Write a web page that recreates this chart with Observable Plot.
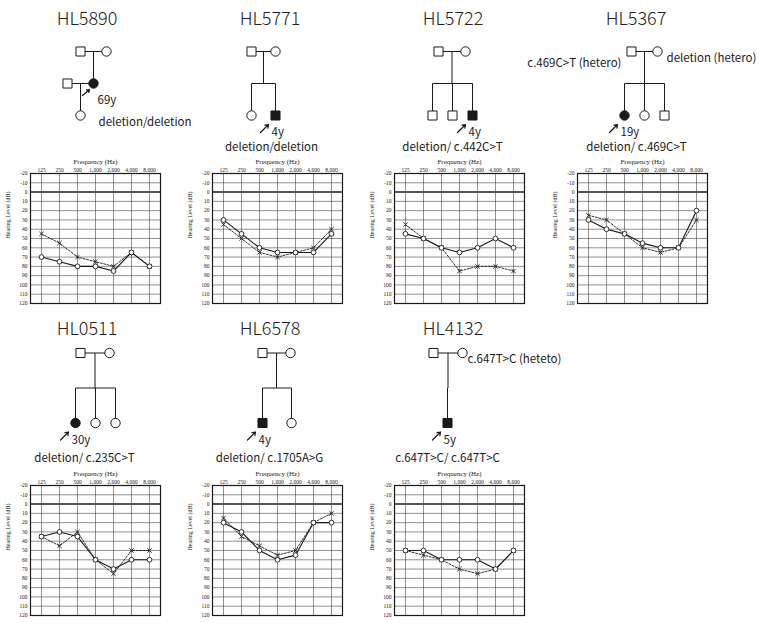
<!DOCTYPE html>
<html>
<head>
<meta charset="utf-8">
<script src="https://cdn.jsdelivr.net/npm/d3@7"></script>
<script src="https://cdn.jsdelivr.net/npm/@observablehq/plot@0.6"></script>
<style>
  body { margin: 0; background: #fff; }
  #root { position: relative; width: 759px; height: 623px; overflow: hidden; background: #fff; }
  .abs { position: absolute; }
  .ttl { position: absolute; font-family: "Noto Sans CJK JP", "Noto Sans", sans-serif; font-size: 18px; font-weight: 300; color: #222; transform: translate(-50%, -50%); white-space: nowrap; }
</style>
</head>
<body>
<div id="root"></div>
<script>
// ---------------- data ----------------
const freqs = ["125", "250", "500", "1,000", "2,000", "4,000", "8,000"];
const dbTicks = [-20, -10, 0, 10, 20, 30, 40, 50, 60, 70, 80, 90, 100, 110, 120];
const families = ["HL5890", "HL5771", "HL5722", "HL5367", "HL0511", "HL6578", "HL4132"];

// right ear (o, solid) and left ear (x, dashed), dB HL at each frequency
const hl5890Right = [70, 75, 80, 80, 85, 65, 80];
const hl5890Left  = [45, 55, 70, 75, 80, 65, 80];
const hl5771Right = [30, 45, 60, 65, 65, 65, 45];
const hl5771Left  = [35, 50, 65, 70, 65, 60, 40];
const hl5722Right = [45, 50, 60, 65, 60, 50, 60];
const hl5722Left  = [35, 50, 60, 85, 80, 80, 85];
const hl5367Right = [30, 40, 45, 55, 60, 60, 20];
const hl5367Left  = [25, 30, 45, 60, 65, 60, 30];
const hl0511Right = [35, 30, 35, 60, 70, 60, 60];
const hl0511Left  = [35, 45, 30, 60, 75, 50, 50];
const hl6578Right = [20, 30, 50, 60, 55, 20, 20];
const hl6578Left  = [15, 35, 45, 55, 50, 20, 10];
const hl4132Right = [50, 50, 60, 60, 60, 70, 50];
const hl4132Left  = [50, 55, 60, 70, 75, 70, 50];

// pedigree members: slot (horizontal, relative to parents), gen (generation row), sex, affected, proband
const hl5890Members = [
  {slot: -0.65, gen: 0, sex: "M", aff: false},
  {slot: 0.65, gen: 0, sex: "F", aff: false},
  {slot: -1.3, gen: 1, sex: "M", aff: false},
  {slot: 0, gen: 1, sex: "F", aff: true, proband: true},
  {slot: -0.65, gen: 2, sex: "F", aff: false}
];
const hl5771Members = [
  {slot: -0.6, gen: 0, sex: "M", aff: false},
  {slot: 0.6, gen: 0, sex: "F", aff: false},
  {slot: -0.6, gen: 2, sex: "F", aff: false},
  {slot: 0.6, gen: 2, sex: "M", aff: true, proband: true}
];
const hl5722Members = [
  {slot: -0.7, gen: 0, sex: "M", aff: false},
  {slot: 0.65, gen: 0, sex: "F", aff: false},
  {slot: -1, gen: 2, sex: "M", aff: false},
  {slot: 0, gen: 2, sex: "M", aff: false},
  {slot: 1, gen: 2, sex: "M", aff: true, proband: true}
];
const hl5367Members = [
  {slot: -0.65, gen: 0, sex: "M", aff: false},
  {slot: 0.65, gen: 0, sex: "F", aff: false},
  {slot: -1, gen: 2, sex: "F", aff: true, proband: true},
  {slot: 0, gen: 2, sex: "F", aff: false},
  {slot: 1, gen: 2, sex: "M", aff: false}
];
const hl0511Members = [
  {slot: -0.75, gen: 0, sex: "M", aff: false},
  {slot: 0.7, gen: 0, sex: "F", aff: false},
  {slot: -1, gen: 2, sex: "F", aff: true, proband: true},
  {slot: 0, gen: 2, sex: "F", aff: false},
  {slot: 1, gen: 2, sex: "F", aff: false}
];
const hl6578Members = [
  {slot: -0.7, gen: 0, sex: "M", aff: false},
  {slot: 0.7, gen: 0, sex: "F", aff: false},
  {slot: -0.7, gen: 2, sex: "M", aff: true, proband: true},
  {slot: 0.75, gen: 2, sex: "F", aff: false}
];
const hl4132Members = [
  {slot: -0.7, gen: 0, sex: "M", aff: false},
  {slot: 0.75, gen: 0, sex: "F", aff: false},
  {slot: 0, gen: 2, sex: "M", aff: true, proband: true}
];
// matings: [father index, mother index, [children indices]]
const hl5890Matings = [[0, 1, [3]], [2, 3, [4]]];
const hl5771Matings = [[0, 1, [2, 3]]];
const hl5722Matings = [[0, 1, [2, 3, 4]]];
const hl5367Matings = [[0, 1, [2, 3, 4]]];
const hl0511Matings = [[0, 1, [2, 3, 4]]];
const hl6578Matings = [[0, 1, [2, 3]]];
const hl4132Matings = [[0, 1, [2]]];

const ages = ["69y", "4y", "4y", "19y", "30y", "4y", "5y"];
const genotypes = ["deletion/deletion", "deletion/deletion", "deletion/ c.442C>T", "deletion/ c.469C>T",
                   "deletion/ c.235C>T", "deletion/ c.1705A>G", "c.647T>C/ c.647T>C"];
const parentNotesHL5367 = ["c.469C>T (hetero)", "deletion (hetero)"];
const parentNotesHL4132 = ["c.647T>C (heteto)"];

// ---------------- layout ----------------
const root = document.getElementById("root");
const ink = "#1a1a1a";
const serif = "'Liberation Serif', 'Times New Roman', serif";
const gothic = "'Noto Sans CJK JP', 'Noto Sans', sans-serif";

function place(el, left, top) {
  el.classList.add("abs");
  el.style.left = left + "px";
  el.style.top = top + "px";
  root.appendChild(el);
}

function audiogram(right, left) {
  const rows = freqs.map((f, i) => ({f, r: right[i], l: left[i]}));
  return Plot.plot({
    width: 166, height: 164,
    marginTop: 28, marginLeft: 30, marginRight: 6, marginBottom: 6,
    style: {background: "transparent", overflow: "visible", fontFamily: serif, fontSize: "5.5px", color: ink},
    x: {type: "point", domain: freqs, padding: 0.45, axis: null},
    y: {domain: [-20, 120], reverse: true, axis: null},
    marks: [
      Plot.gridX(freqs, {stroke: "#333", strokeOpacity: 0.9, strokeWidth: 0.6}),
      Plot.gridY(dbTicks, {stroke: "#333", strokeOpacity: 0.9, strokeWidth: 0.6}),
      Plot.ruleY([0], {stroke: "#555", strokeWidth: 2}),
      Plot.frame({stroke: ink, strokeWidth: 1.2}),
      Plot.axisX({anchor: "top", tickSize: 0, tickPadding: 2, label: null}),
      Plot.axisY({ticks: dbTicks, tickSize: 0, tickPadding: 3, label: null, tickFormat: d => String(d)}),
      Plot.text(["Frequency (Hz)"], {frameAnchor: "top", dy: -14, fontSize: 7, fill: ink}),
      Plot.text(["Hearing Level (dB)"], {frameAnchor: "left", dx: -22, rotate: -90, fontSize: 6, fill: ink}),
      Plot.line(rows, {x: "f", y: "l", stroke: ink, strokeWidth: 0.9, strokeDasharray: "2,1.5"}),
      Plot.line(rows, {x: "f", y: "r", stroke: ink, strokeWidth: 1.1}),
      Plot.dot(rows, {x: "f", y: "l", symbol: "times", r: 2.1, stroke: ink, strokeWidth: 0.9}),
      Plot.dot(rows, {x: "f", y: "r", symbol: "circle", r: 2.4, fill: "white", stroke: ink, strokeWidth: 0.9})
    ]
  });
}

const UNIT = 20; // px per slot
function pedigree(members, matings, age, genotype, levelPx, opts = {}) {
  const segs = [];
  for (const [a, b, kids] of matings) {
    const A = members[a], B = members[b];
    segs.push({x1: A.slot, y1: A.gen, x2: B.slot, y2: B.gen});
    const mx = (A.slot + B.slot) / 2, py = A.gen;
    const ch = kids.map(k => members[k]);
    if (ch.length === 1 && Math.abs(ch[0].slot - mx) < 1e-6) {
      segs.push({x1: mx, y1: py, x2: mx, y2: ch[0].gen});
    } else {
      const sib = ch[0].gen - 1;
      segs.push({x1: mx, y1: py, x2: mx, y2: sib});
      const xs = ch.map(c => c.slot).concat([mx]);
      segs.push({x1: d3.min(xs), y1: sib, x2: d3.max(xs), y2: sib});
      for (const c of ch) segs.push({x1: c.slot, y1: sib, x2: c.slot, y2: c.gen});
    }
  }
  const probands = members.filter(m => m.proband);
  const ax = opts.arrow || {tx: -15, ty: 17, hx: -7, hy: 9};
  const ag = opts.age || {dx: -4, dy: 17};
  const gp = opts.geno || {slot: 0, gen: 3, anchor: "middle"};
  const notes = opts.notes || [];
  const sym = (sex, aff) => Plot.dot(members.filter(m => m.sex === sex && !!m.aff === aff), {
    x: "slot", y: "gen", symbol: sex === "M" ? "square" : "circle",
    r: sex === "M" ? 5.1 : 4.7, fill: aff ? ink : "white", stroke: ink, strokeWidth: 1
  });
  return Plot.plot({
    width: 240, height: levelPx * 4,
    margin: 0,
    style: {background: "transparent", overflow: "visible", fontFamily: gothic, color: ink},
    x: {domain: [-6, 6], axis: null},
    y: {domain: [-0.5, 3.5], reverse: true, axis: null},
    marks: [
      Plot.link(segs, {x1: "x1", y1: "y1", x2: "x2", y2: "y2", stroke: ink, strokeWidth: 1}),
      sym("M", false), sym("M", true), sym("F", false), sym("F", true),
      Plot.arrow(probands, {
        x1: d => d.slot + ax.tx / UNIT, y1: d => d.gen + ax.ty / levelPx,
        x2: d => d.slot + ax.hx / UNIT, y2: d => d.gen + ax.hy / levelPx,
        stroke: ink, strokeWidth: 1.2, headLength: 4.5, headAngle: 70
      }),
      Plot.text(probands, {x: "slot", y: "gen", text: () => age, dx: ag.dx, dy: ag.dy,
        textAnchor: "start", fontSize: 11.5, fill: ink}),
      Plot.text([genotype], {x: () => gp.slot, y: () => gp.gen, textAnchor: gp.anchor,
        fontSize: 11.5, fill: ink}),
      ...notes.map(n => Plot.text([n.text], {x: () => n.slot, y: () => n.gen, textAnchor: n.anchor,
        fontSize: 11.5, fill: ink}))
    ]
  });
}

// audiograms
const rights = [hl5890Right, hl5771Right, hl5722Right, hl5367Right, hl0511Right, hl6578Right, hl4132Right];
const lefts = [hl5890Left, hl5771Left, hl5722Left, hl5367Left, hl0511Left, hl6578Left, hl4132Left];
const frameLefts = [30, 212, 394, 577, 30, 212, 394];
const frameTops = [173, 173, 173, 173, 485, 485, 485];
rights.forEach((r, i) => place(audiogram(r, lefts[i]), frameLefts[i] - 30, frameTops[i] - 28));

// pedigrees
const memberSets = [hl5890Members, hl5771Members, hl5722Members, hl5367Members, hl0511Members, hl6578Members, hl4132Members];
const matingSets = [hl5890Matings, hl5771Matings, hl5722Matings, hl5367Matings, hl0511Matings, hl6578Matings, hl4132Matings];
const pedCenters = [93, 263, 452, 644, 95, 276, 447];
const pedRow0 = [51, 51, 51, 51, 352, 352, 352];
const pedLevel = [32, 32, 32, 32, 35, 35, 35];
const pedOpts = [
  {arrow: {tx: -11, ty: 12, hx: -4, hy: 6}, age: {dx: 4, dy: 17}, geno: {slot: 0.25, gen: 2.22, anchor: "start"}},
  {geno: {slot: 0.4, gen: 3, anchor: "middle"}},
  {geno: {slot: 0, gen: 3, anchor: "middle"}},
  {geno: {slot: -0.4, gen: 3, anchor: "middle"},
   notes: [{text: parentNotesHL5367[0], slot: -1.15, gen: 0.38, anchor: "end"},
           {text: parentNotesHL5367[1], slot: 1.1, gen: 0.22, anchor: "start"}]},
  {geno: {slot: -0.55, gen: 3, anchor: "middle"}},
  {geno: {slot: -0.35, gen: 3, anchor: "middle"}},
  {geno: {slot: 0, gen: 3, anchor: "middle"},
   notes: [{text: parentNotesHL4132[0], slot: 1.0, gen: 0.17, anchor: "start"}]}
];
memberSets.forEach((m, i) => {
  const lv = pedLevel[i];
  place(pedigree(m, matingSets[i], ages[i], genotypes[i], lv, pedOpts[i]),
        pedCenters[i] - 120, pedRow0[i] - 0.5 * lv);
});

// titles
const titleX = [87, 270, 453, 636, 87, 270, 453];
const titleY = [17, 17, 17, 17, 327, 327, 327];
families.forEach((f, i) => {
  const d = document.createElement("div");
  d.className = "ttl";
  d.textContent = f;
  d.style.left = titleX[i] + "px";
  d.style.top = titleY[i] + "px";
  root.appendChild(d);
});
</script>
</body>
</html>
